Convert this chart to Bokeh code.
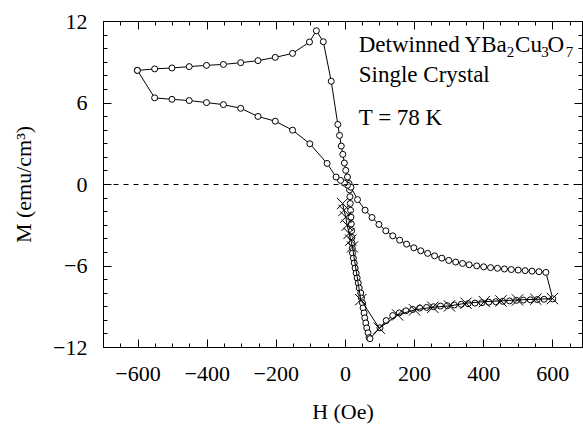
from bokeh.plotting import figure
from bokeh.models import Range1d, LinearAxis, Span, Label, SingleIntervalTicker, CustomJSTickFormatter
from bokeh.embed import file_html
from bokeh.resources import INLINE

# Hysteresis loop (open circles), H in Oe, M in emu/cm^3
H_loop = [-602, -552, -502, -452, -402, -353, -303, -253, -203, -153, -104, -84, -64, -41, -22, -17, -12, -7.5, -3, 1, 6, 10.5,
          12, 13, 14, 15, 16, 17, 18, 18.5, 19, 20, 20.4, 23, 25.5, 28, 31, 34, 37, 40, 44.4, 46.4, 49.3, 51.1, 54, 56, 58.9, 61.8, 65.5, 68.4, 71,
          100, 118, 137, 156, 175, 195, 215, 235, 255, 275, 295, 315, 335, 355, 375, 395, 415, 435, 455, 475, 495, 515, 535, 555, 575, 600,
          580, 560, 540, 520, 500, 480, 460, 440, 420, 400, 380, 358, 339, 319, 299, 279, 258, 238, 218, 198, 177, 157, 137, 117, 97, 77, 57, 35, 16, 6, -3, -14,
          -27, -53, -103, -153, -203, -253, -303, -353, -402, -452, -502, -552, -602]
M_loop = [8.40, 8.51, 8.58, 8.68, 8.77, 8.84, 8.97, 9.12, 9.36, 9.65, 10.49, 11.32, 10.51, 7.6, 4.42, 3.61, 2.83, 2.22, 1.58, 1.04, 0.55, 0.07,
          -0.4, -0.9, -1.4, -1.9, -2.4, -2.9, -3.4, -3.9, -4.3, -4.7, -5.05, -5.42, -5.78, -6.15, -6.52, -6.88, -7.25, -7.62, -7.99, -8.36, -8.72, -9.09, -9.46, -9.82, -10.19, -10.56, -10.92, -11.27, -11.35,
          -10.55, -10.02, -9.65, -9.45, -9.3, -9.2, -9.1, -9.05, -9.0, -8.95, -8.92, -8.87, -8.82, -8.77, -8.73, -8.7, -8.66, -8.63, -8.6, -8.57, -8.53, -8.51, -8.49, -8.47, -8.45, -8.42,
          -6.47, -6.42, -6.38, -6.34, -6.30, -6.26, -6.22, -6.17, -6.12, -6.06, -5.99, -5.91, -5.81, -5.71, -5.59, -5.42, -5.25, -5.07, -4.88, -4.66, -4.39, -4.1, -3.78, -3.41, -2.94, -2.43, -1.89, -1.11, -0.2, -0.05, 0.1, 0.3,
          0.55, 1.55, 3.0, 4.0, 4.66, 5.01, 5.61, 5.88, 6.03, 6.18, 6.27, 6.38, 8.40]

# Virgin curve (crosses)
H_virgin = [-8, -4, 1, 5, 10.6, 15.5, 20.4, 44.4, 98, 151, 200, 253, 301, 349, 402, 450, 498, 551, 599]
M_virgin = [-1.4, -1.9, -2.4, -3.0, -3.6, -4.1, -4.6, -8.48, -10.58, -9.6, -9.23, -9.04, -8.94, -8.74, -8.62, -8.57, -8.5, -8.45, -8.4]

FONT = "Liberation Serif"

p = figure(width=583, height=426, output_backend="svg", toolbar_location=None,
           x_range=Range1d(-700, 686), y_range=Range1d(-12, 12),
           min_border_left=103, min_border_right=1, min_border_top=21, min_border_bottom=78,
           background_fill_color="white", border_fill_color="white")
p.grid.visible = False
p.outline_line_color = "black"
p.outline_line_width = 1

xt = SingleIntervalTicker(interval=200, num_minor_ticks=4)
yt = SingleIntervalTicker(interval=6, num_minor_ticks=6)

def style(ax, ticker, show_labels):
    ax.ticker = ticker
    ax.major_tick_in = 8
    ax.major_tick_out = 0
    ax.minor_tick_in = 4
    ax.minor_tick_out = 0
    ax.axis_line_color = "black"
    ax.major_tick_line_color = "black"
    ax.minor_tick_line_color = "black"
    ax.major_label_text_font = FONT
    ax.major_label_text_color = "black"
    ax.axis_label_text_font = FONT
    ax.axis_label_text_font_style = "normal"
    ax.axis_label_text_color = "black"
    ax.axis_label_text_font_size = "22px"
    if show_labels:
        ax.major_label_text_font_size = "22px"
    else:
        ax.major_label_text_font_size = "0px"
        ax.major_label_standoff = 0
        ax.formatter = CustomJSTickFormatter(code="return ''")

style(p.xaxis[0], xt, True)
style(p.yaxis[0], yt, True)
p.xaxis[0].axis_label = "H (Oe)"
p.yaxis[0].axis_label = "M (emu/cm³)"
p.xaxis[0].major_label_standoff = 19
p.xaxis[0].axis_label_standoff = 15
p.yaxis[0].major_label_standoff = 16
p.yaxis[0].axis_label_standoff = 14

top = LinearAxis()
style(top, SingleIntervalTicker(interval=200, num_minor_ticks=4), False)
p.add_layout(top, "above")
right = LinearAxis()
style(right, SingleIntervalTicker(interval=6, num_minor_ticks=6), False)
p.add_layout(right, "right")

p.add_layout(Span(location=0, dimension="width", line_color="black", line_width=1, line_dash="5 5"))

p.line(H_loop, M_loop, line_color="black", line_width=1)
p.scatter(H_loop, M_loop, marker="circle", size=6, fill_color="white", line_color="black", line_width=1)
p.line(H_virgin, M_virgin, line_color="black", line_width=1)
p.scatter(H_virgin, M_virgin, marker="x", size=16, line_color="black", line_width=1)

def lab(x, y, t, size):
    p.add_layout(Label(x=x, y=y, text=t, text_font=FONT, text_font_size=size,
                       text_color="black", text_baseline="alphabetic", text_align="left"))

lab(38.6, 10.31, "Detwinned YBa", "23px")
lab(467, 9.73, "2", "15px")
lab(491, 10.31, "Cu", "23px")
lab(567, 9.73, "3", "15px")
lab(585, 10.31, "O", "23px")
lab(637.6, 9.73, "7", "15px")
lab(38.6, 8.11, "Single Crystal", "23px")
lab(38.6, 4.96, "T = 78 K", "23px")

open("out.html", "w").write(file_html(p, INLINE))
